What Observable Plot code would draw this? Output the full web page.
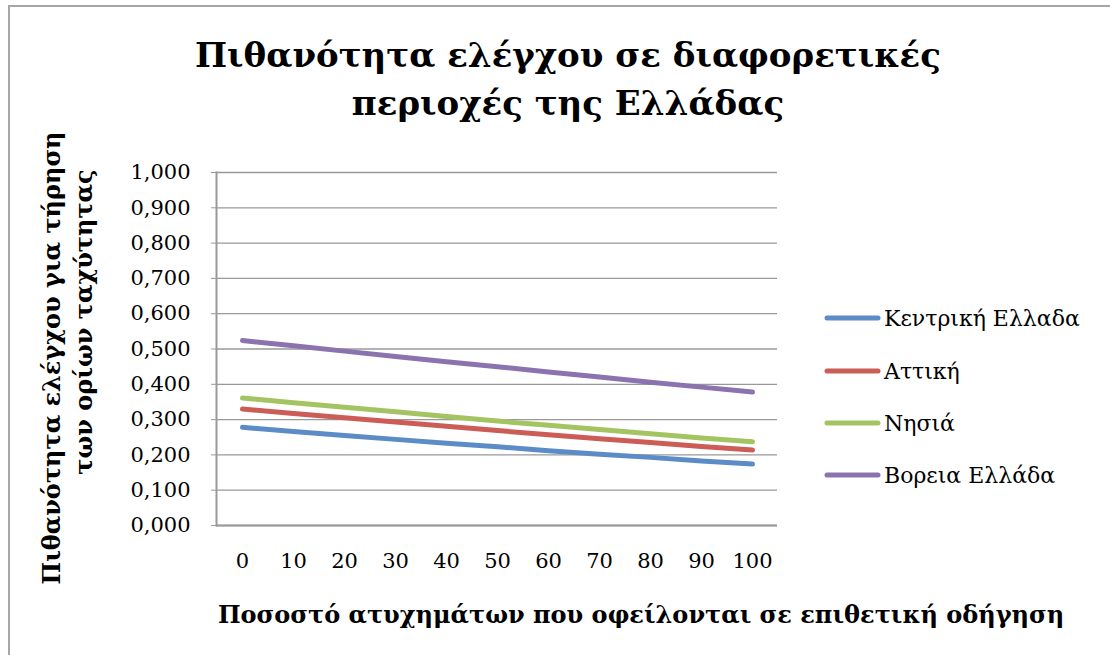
<!DOCTYPE html>
<html>
<head>
<meta charset="utf-8">
<script src="https://cdn.jsdelivr.net/npm/d3@7"></script>
<script src="https://cdn.jsdelivr.net/npm/@observablehq/plot@0.6"></script>
<style>
  html, body { margin: 0; padding: 0; background: #fff; }
  #wrap { position: relative; width: 1110px; height: 655px; overflow: hidden; background: #fff; }
  #border { position: absolute; left: 8px; top: 5px; width: 1200px; height: 800px;
            border-left: 2px solid #a6a6a6; border-top: 2px solid #a6a6a6; }
  #wrap svg { position: absolute; left: 0; top: 0; }
</style>
</head>
<body>
<div id="wrap"><div id="border"></div></div>
<script>
// ---- data ----
const titleLines = ["Πιθανότητα ελέγχου σε διαφορετικές", "περιοχές της Ελλάδας"];
const yTitleLines = ["Πιθανότητα ελέγχου για τήρηση", "των ορίων ταχύτητας"];
const xTitle = "Ποσοστό ατυχημάτων που οφείλονται σε επιθετική οδήγηση";
const xs = [0, 10, 20, 30, 40, 50, 60, 70, 80, 90, 100];
const yTicks = [0, 0.1, 0.2, 0.3, 0.4, 0.5, 0.6, 0.7, 0.8, 0.9, 1.0];
const regions = ["Κεντρική Ελλαδα", "Αττική", "Νησιά", "Βορεια Ελλάδα"];
const kentriki = [0.278, 0.266, 0.255, 0.244, 0.233, 0.223, 0.212, 0.202, 0.193, 0.183, 0.174];
const attiki   = [0.330, 0.317, 0.305, 0.293, 0.281, 0.269, 0.257, 0.246, 0.235, 0.224, 0.214];
const nisia    = [0.361, 0.348, 0.335, 0.322, 0.309, 0.296, 0.284, 0.272, 0.260, 0.248, 0.237];
const voreia   = [0.524, 0.509, 0.494, 0.479, 0.464, 0.450, 0.435, 0.421, 0.406, 0.392, 0.378];
const colors = ["#5b8cc7", "#cc5c56", "#a4c462", "#8d72b0"];

const seriesValues = [kentriki, attiki, nisia, voreia];
const rows = [];
regions.forEach((r, i) => xs.forEach((x, j) => rows.push({region: r, x, v: seriesValues[i][j]})));

const fmt = d => d3.format(".3f")(d).replace(".", ",");
const FONT = "'DejaVu Serif', serif";

const chart = Plot.plot({
  width: 1110, height: 655,
  marginLeft: 216, marginRight: 333, marginTop: 172, marginBottom: 130,
  style: {fontFamily: FONT, fontSize: "21px", color: "#000", background: "transparent"},
  x: {type: "point", domain: xs, padding: 0.5, label: null},
  y: {domain: [0, 1], label: null},
  color: {domain: regions, range: colors},
  marks: [
    Plot.gridY(yTicks, {stroke: "#999", strokeOpacity: 1, strokeWidth: 1.3}),
    Plot.axisY(yTicks, {tickFormat: fmt, tickSize: 5, tickPadding: 21, stroke: "#999", fill: "#000", fontSize: 21, label: null}),
    Plot.axisX(xs, {tickSize: 0, tickPadding: 28, fill: "#000", fontSize: 21, label: null}),
    Plot.ruleY([0], {stroke: "#999", strokeWidth: 2}),
    Plot.frame({anchor: "left", stroke: "#999", strokeWidth: 2}),
    Plot.line(rows, {x: "x", y: "v", z: "region", stroke: "region", strokeWidth: 5,
                     strokeLinecap: "round", strokeLinejoin: "round"})
  ]
});
document.getElementById("wrap").appendChild(chart);

// ---- titles and legend (overlay) ----
const svg = d3.select("#wrap").append("svg")
  .attr("width", 1110).attr("height", 655)
  .style("font-family", FONT);

const titleBaselines = [67, 115];
titleLines.forEach((t, i) => {
  svg.append("text").attr("x", 568).attr("y", titleBaselines[i])
    .attr("text-anchor", "middle").attr("font-size", 34).attr("font-weight", "bold").text(t);
});

svg.append("text").attr("x", 641).attr("y", 623)
  .attr("text-anchor", "middle").attr("font-size", 24).attr("font-weight", "bold").text(xTitle);

const yTitlePos = [[60, 358], [92, 322]];
yTitleLines.forEach((t, i) => {
  const [bx, cy] = yTitlePos[i];
  svg.append("text").attr("transform", `translate(${bx},${cy}) rotate(-90)`)
    .attr("text-anchor", "middle").attr("font-size", 24).attr("font-weight", "bold").text(t);
});

const legendY = [318, 371, 423, 475];
regions.forEach((r, i) => {
  const g = svg.append("g").attr("transform", `translate(0,${legendY[i]})`);
  g.append("line").attr("x1", 827).attr("x2", 878).attr("y1", 0).attr("y2", 0)
    .attr("stroke", colors[i]).attr("stroke-width", 5).attr("stroke-linecap", "round");
  g.append("text").attr("x", 884).attr("y", 8).attr("font-size", 22).text(r);
});
</script>
</body>
</html>
